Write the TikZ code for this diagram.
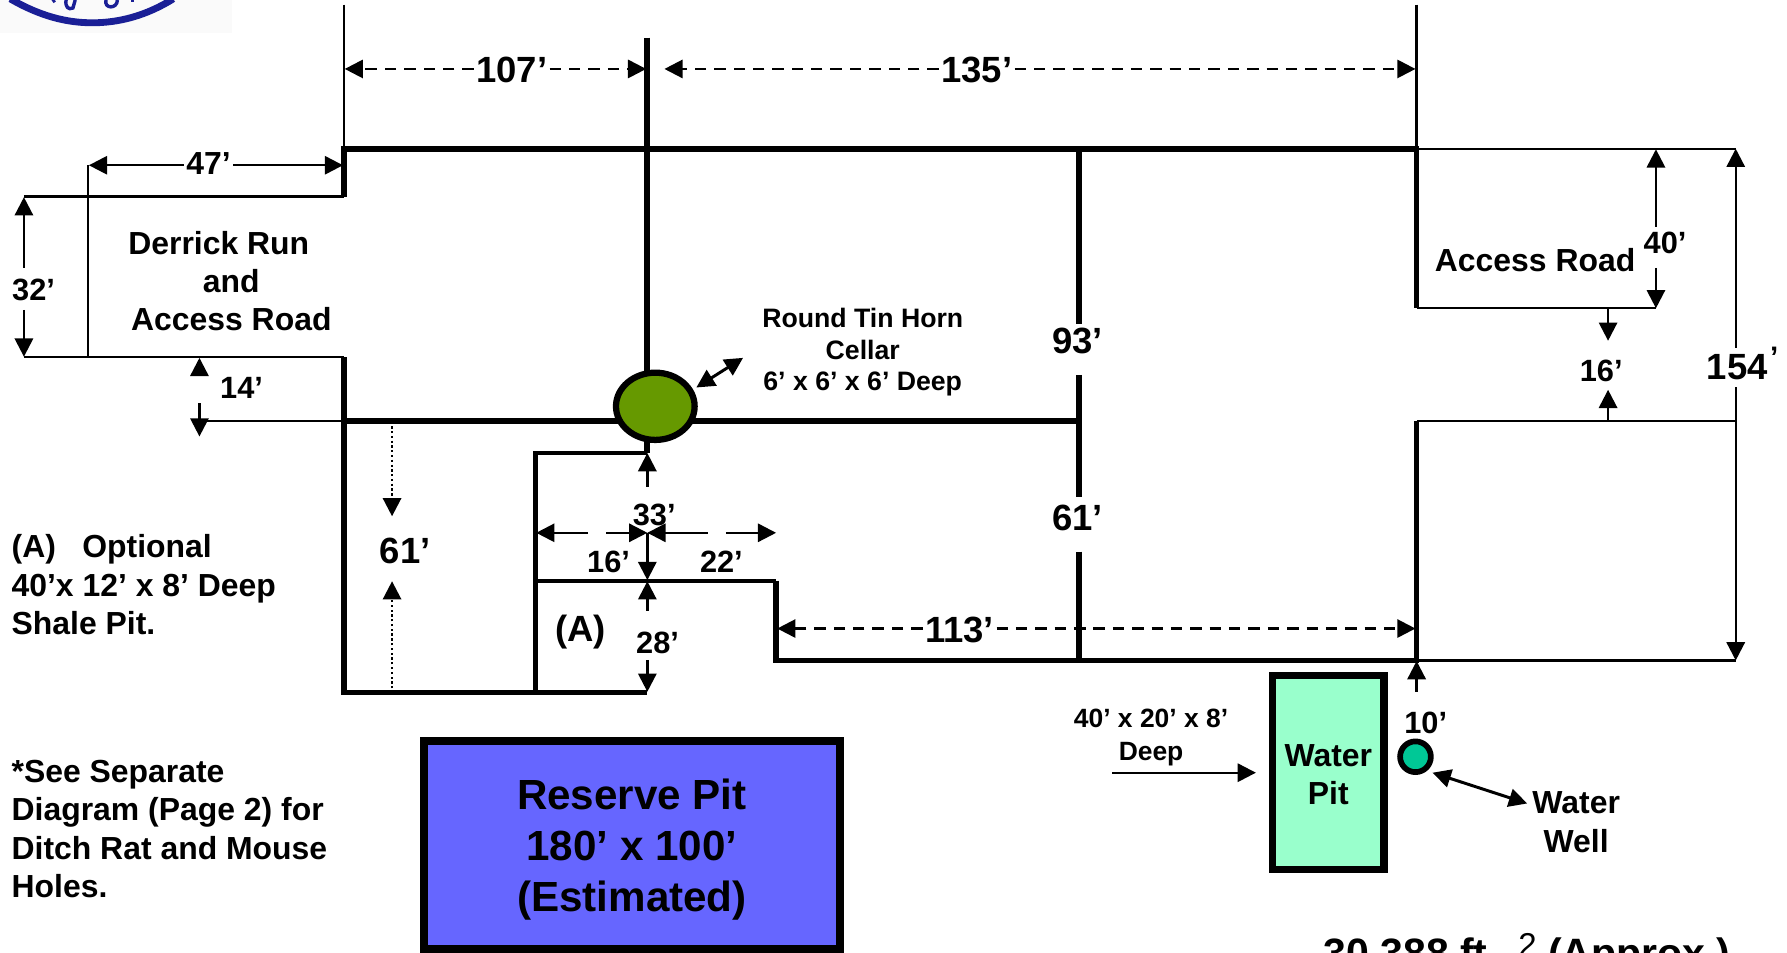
\documentclass[tikz,border=0pt]{standalone}
\usepackage{fontspec}
\setmainfont{Liberation Sans}[Ligatures=TeX]
\usetikzlibrary{arrows.meta,shapes.geometric}
\definecolor{cellargreen}{HTML}{669900}
\definecolor{pitblue}{HTML}{6666FF}
\definecolor{pitmint}{HTML}{99FFCC}
\definecolor{wellteal}{HTML}{00C896}
\definecolor{logoblue}{HTML}{1A1F96}
\newcommand{\fs}[2]{\fontsize{#1}{#2}\selectfont\bfseries}
\tikzset{
  x=1pt,y=-1pt,
  heavy/.style={line width=5pt,line cap=butt,line join=miter},
  medium/.style={line width=3.8pt,line join=miter},
  light/.style={line width=2.1pt},
  tip/.style={-{Triangle[length=16pt,width=16pt]}},
  duotip/.style={{Triangle[length=16pt,width=16pt]}-{Triangle[length=16pt,width=16pt]}},
  dimline/.style={light,tip},
  dashline/.style={light,tip,dash pattern=on 10pt off 7pt},
  dotline/.style={line width=2.2pt,tip,dash pattern=on 2pt off 2.2pt},
  lab/.style={inner sep=0pt,font=\fs{27}{32}},
  biglab/.style={inner sep=0pt,font=\fs{32}{38}},
  txt/.style={inner sep=0pt,align=center,font=\fs{28}{33.6}},
  smalltxt/.style={inner sep=0pt,align=center,font=\fs{23.4}{28}},
  lefttxt/.style={inner sep=0pt,align=left,anchor=north west,font=\fs{28}{33.6}},
}
\begin{document}
\begin{tikzpicture}
\useasboundingbox (0,0) rectangle (1568,835.35);
\begin{scope}
\clip (0,0) rectangle (1568,835.35);
% logo remnant
\fill[black!2] (0,0) rectangle (204,29);
\draw[logoblue,line width=6pt] (9,-1) .. controls (35,14) and (58,20) .. (81,20) .. controls (104,20) and (128,14) .. (152,-1);
\draw[logoblue,line width=3pt] (66,0) -- (64,7) .. controls (60,9) and (57,6) .. (58,0);
\draw[logoblue,line width=3pt] (93,0) .. controls (91,8) and (103,8) .. (103,0);
\draw[logoblue,line width=2.5pt] (46,-1) -- (48,2);
\draw[logoblue,line width=2.5pt] (116,-1) -- (116,2);
% reserve pit
\node[draw=black,fill=pitblue,line width=7pt,minimum width=365pt,minimum height=182.5pt,inner sep=0pt] (reserve) at (554.5,741.2) {};
\node[inner sep=0pt,align=center,font=\fs{37}{45}] (reservetext) at (554.5,745.5) {Reserve Pit\\180’ x 100’\\(Estimated)};
% area text
\node[inner sep=0pt,anchor=base west,font=\fs{36}{44}] (area) at (1161,849) {30,388 ft.\hspace{17pt}\raisebox{10pt}{\fontsize{29}{32}\selectfont\mdseries 2} (Approx.)};
\end{scope}

% thin outline and extension lines
\coordinate (tl) at (302,130.5); \coordinate (tr) at (1243,130.5);
\coordinate (tlx) at (302,4);  \coordinate (trx) at (1243,4);
\coordinate (s1) at (302,172.5); \coordinate (s1l) at (21,172.5);
\coordinate (s2) at (302,313.5); \coordinate (s2l) at (21,313.5);
\coordinate (r47) at (77,145); \coordinate (r47b) at (77,313.5);
\coordinate (mid) at (302,369.5); \coordinate (midl) at (175,369.5);
\coordinate (bl) at (302,607.5); \coordinate (br) at (568,607.5);
\coordinate (cx) at (568,33);  \coordinate (cy) at (568,397.5);
\coordinate (ax) at (470,397.5); \coordinate (ab) at (470,607.5);
\coordinate (a1) at (470,509.5); \coordinate (a2) at (681,509.5);
\coordinate (a3) at (681,579.5); \coordinate (a4) at (1243,579.5);
\coordinate (midr) at (947,369.5);
\coordinate (rt) at (1243,270.5); \coordinate (rtr) at (1453,270.5);
\coordinate (rb) at (1243,369.5); \coordinate (rbr) at (1523,369.5);
\coordinate (ftr) at (1523,130.5); \coordinate (fbr) at (1523,579.5);

\draw[light] (tlx) -- (tl);
\draw[light] (trx) -- (tr);
\draw[light] (s1l) -- (s1);
\draw[light] (s2l) -- (s2);
\draw[light] (r47) -- (r47b);
\draw[light] (midl) -- (mid);
\draw[light] (tr) -- (ftr);
\draw[light] (rt) -- (rtr);
\draw[light] (rb) -- (rbr);
\draw[light] (a4) -- (fbr);

% heavy walls
\draw[heavy] (s1) -- (tl) -- (tr) -- (rt);
\draw[heavy] (s2) -- (bl) -- (br);
\draw[heavy] (cx) -- (cy);
\draw[heavy] (mid) -- (midr);
\draw[heavy] (a2) -- (a3) -- (a4) -- (rb);
\draw[medium] (a1) -- (a2);
\draw[medium] (cy) -- (ax) -- (ab);

% labels
\node[biglab] (l107) at (449,61) {107’};
\node[biglab] (l135) at (857,61) {135’};
\node[lab,font=\fs{28}{33}] (l47) at (183,143.5) {47’};
\node[lab] (l32) at (29.5,254) {32’};
\node[lab] (l14) at (212,340) {14’};
\node[biglab] (l61a) at (355.5,483) {61’};
\node[biglab] (l93) at (945.5,299.5) {93’};
\node[biglab] (l61b) at (945.5,454.5) {61’};
\node[lab] (l33) at (574,452) {33’};
\node[lab] (l16a) at (534,493) {16’};
\node[lab] (l22) at (633,493) {22’};
\node[biglab] (lA) at (509.5,555) {(A)};
\node[lab] (l28) at (577,564) {28’};
\node[biglab] (l113) at (842,553) {113’};
\node[lab] (l40) at (1461,213.5) {40’};
\node[lab] (l16b) at (1405,325.5) {16’};
\node[biglab] (l154) at (1529,319) {154\hspace{2pt}\raisebox{11pt}{\fontsize{26}{28}\selectfont ’}};
\node[lab] (l10) at (1251,634.5) {10’};

% text blocks
\node[txt] (derrick) at (192,213) {Derrick Run};
\node[txt] (and) at (203,247) {and};
\node[txt] (accessl) at (203,280) {Access Road};
\node[txt] (accessr) at (1347,228) {Access Road};
\node[smalltxt] (cellartxt) at (757,309) {Round Tin Horn\\Cellar\\6’ x 6’ x 6’ Deep};
\node[lefttxt] (shale) at (10,469) {(A)\hspace{0.55em} Optional\\40’x 12’ x 8’ Deep\\Shale Pit.};
\node[lefttxt] (note) at (10,667) {*See Separate\\Diagram (Page 2) for\\Ditch Rat and Mouse\\Holes.};
\node[smalltxt,font=\fs{23.2}{29}] (pitdim) at (1010,647.5) {40’ x 20’ x 8’\\Deep};
\node[txt] (wellname) at (1383,721.5) {Water\\Well};

% vertical wall crossing with gaps at labels
\coordinate (v1) at (947,130.5); \coordinate (v2) at (947,579.5);
\coordinate (v1e) at (947,284); \coordinate (v2s) at (947,329);
\coordinate (v2e) at (947,436); \coordinate (v3s) at (947,484);
\draw[heavy] (v1) -- (v1e);
\draw[heavy] (v2s) -- (v2e);
\draw[heavy] (v3s) -- (v2);

% dimension arrows
\coordinate (d107l) at (302.5,60.5); \coordinate (d107r) at (567,60.5);
\coordinate (d135l) at (583,60.5);  \coordinate (d135r) at (1242,60.5);
\draw[dashline] (l107.west |- d107l) ++(-2,0) -- (d107l);
\draw[dashline] (l107.east |- d107r) ++(2,0) -- (d107r);
\draw[dashline] (l135.west |- d135l) ++(-2,0) -- (d135l);
\draw[dashline] (l135.east |- d135r) ++(2,0) -- (d135r);

\coordinate (d47l) at (78,145); \coordinate (d47r) at (301,145);
\draw[dimline] (l47.west |- d47l) ++(-2,0) -- (d47l);
\draw[dimline] (l47.east |- d47r) ++(2,0) -- (d47r);

\coordinate (d32t) at (21,173); \coordinate (d32b) at (21,313);
\draw[dimline] (21,235) coordinate (d32ts) -- (d32t);
\draw[dimline] (21,272) coordinate (d32bs) -- (d32b);

\coordinate (d14t) at (175,314); \coordinate (d14b) at (175,383);
\draw[dimline] (175,328) coordinate (d14ts) -- (d14t);
\draw[dimline] (175,354) coordinate (d14bs) -- (d14b);

\coordinate (d61t) at (344,453); \coordinate (d61b) at (344,510);
\draw[dotline] (344,374) coordinate (d61ts) -- (d61t);
\draw[dotline] (344,604) coordinate (d61bs) -- (d61b);

\coordinate (c33) at (568,467.5);
\coordinate (d33t) at (568,397.5); \coordinate (d33b) at (568,509);
\coordinate (d28t) at (568,510); \coordinate (d28b) at (568,607);
\draw[dimline] (568,427) coordinate (d33ts) -- (d33t);
\draw[dimline] (c33) -- (d33b);
\draw[dimline] (568,536) coordinate (d28ts) -- (d28t);
\draw[dimline] (568,579) coordinate (d28bs) -- (d28b);

\coordinate (d16l) at (470.5,467.5); \coordinate (d22r) at (681,467.5);
\draw[dimline] (516,467.5) coordinate (d16ls) -- (d16l);
\draw[dimline] (532,467.5) coordinate (d16rs) -- (c33);
\draw[dimline] (621,467.5) coordinate (d22ls) -- (c33);
\draw[dimline] (637,467.5) coordinate (d22rs) -- (d22r);

\coordinate (d113l) at (682,551.5); \coordinate (d113r) at (1242,551.5);
\draw[dashline] (l113.west |- d113l) ++(-2,0) -- (d113l);
\draw[dashline] (l113.east |- d113r) ++(2,0) -- (d113r);

\coordinate (d40t) at (1453,131); \coordinate (d40b) at (1453,270.5);
\draw[dimline] (1453,199) coordinate (d40ts) -- (d40t);
\draw[dimline] (1453,235) coordinate (d40bs) -- (d40b);

\coordinate (d16t) at (1411,270.5); \coordinate (d16tt) at (1411,299);
\coordinate (d16b) at (1411,369.5); \coordinate (d16bt) at (1411,342);
\draw[dimline] (d16t) -- (d16tt);
\draw[dimline] (d16b) -- (d16bt);

\draw[dimline] (1523,305) coordinate (d154ts) -- (ftr);
\draw[dimline] (1523,340) coordinate (d154bs) -- (fbr);

% cellar
\node[draw=black,fill=cellargreen,line width=5.5pt,ellipse,minimum width=69pt,minimum height=59pt,inner sep=0pt] (cellar) at (575,356.5) {};
\coordinate (cellarnote) at (652,314); \coordinate (cellarpt) at (611,340);
\draw[light,line width=2.6pt,duotip] (cellarpt) -- (cellarnote);

% water pit and well
\node[draw=black,fill=pitmint,line width=6.4pt,minimum width=98pt,minimum height=170pt,inner sep=0pt] (waterpit) at (1165.5,678) {};
\node[inner sep=0pt,align=center,font=\fs{28}{33.6}] (waterpittxt) at (1165.5,680) {Water\\Pit};
\node[draw=black,fill=wellteal,circle,line width=5pt,minimum size=27pt,inner sep=0pt] (well) at (1242,664) {};
\coordinate (pitarrow) at (976,678); \coordinate (pitarrowtip) at (1102,678);
\draw[dimline] (pitarrow) -- (pitarrowtip);
\coordinate (welltop) at (1243,607); \coordinate (welltip) at (1243,580);
\draw[dimline] (welltop) -- (welltip);
\coordinate (wella) at (1257,678); \coordinate (wellb) at (1340,705);
\draw[light,line width=2.6pt,duotip] (wella) -- (wellb);
\end{tikzpicture}
\end{document}
